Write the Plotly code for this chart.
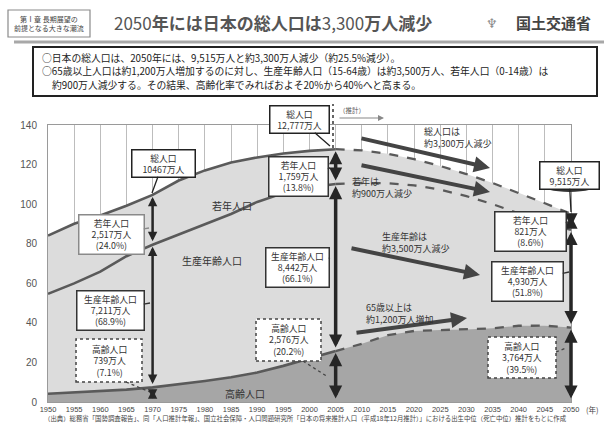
import plotly.graph_objects as go

# ---- data (unit: million persons) ----
years = [1950, 1955, 1960, 1965, 1970, 1975, 1980, 1985, 1990, 1995, 2000,
         2005, 2010, 2015, 2020, 2025, 2030, 2035, 2040, 2045, 2050]
total = [84.12, 90.08, 94.30, 99.21, 104.67, 111.94, 117.06, 121.05, 123.61, 125.57, 126.93,
         127.77, 127.18, 125.43, 122.74, 119.27, 115.22, 110.68, 105.70, 100.44, 95.15]
young = [29.43, 30.12, 28.43, 25.53, 25.17, 27.22, 27.51, 26.03, 22.49, 20.01, 18.47,
         17.59, 16.48, 14.84, 13.24, 11.96, 11.15, 10.68, 10.30, 9.74, 8.21]
elderly = [4.15, 4.75, 5.40, 6.24, 7.39, 8.87, 10.65, 12.47, 14.90, 18.26, 22.01,
           25.76, 29.41, 33.78, 35.90, 36.35, 36.67, 37.25, 38.53, 38.56, 37.64]
y_ticks = [0, 20, 40, 60, 80, 100, 120, 140]
x_ticks = years
base_year = 2005
marked_years = [1970, 2005, 2050]

# boundary between working-age band and young band
upper_mid = [t - y for t, y in zip(total, young)]
hist = [i for i, yr in enumerate(years) if yr <= base_year]
proj = [i for i, yr in enumerate(years) if yr >= base_year]

W, H = 604, 423
L, R, T, B = 48, 571, 125, 402
FONT = "Noto Sans CJK JP"
TXT = "#333333"
LINE = "#5a5a5a"


def PX(px):
    return (px - L) / (R - L)


def PY(py):
    return (B - py) / (B - T)


def sub(arr, idx):
    return [arr[i] for i in idx]


fig = go.Figure()

# filled areas
fig.add_trace(go.Scatter(x=years, y=total, fill="tozeroy", mode="none",
                         fillcolor="#dcdcdc", hoverinfo="skip"))
fig.add_trace(go.Scatter(x=years, y=elderly, fill="tozeroy", mode="none",
                         fillcolor="#a6a6a6", hoverinfo="skip"))

# boundary lines: solid for actual, dashed for projection
for series in (total, upper_mid, elderly):
    fig.add_trace(go.Scatter(x=sub(years, hist), y=sub(series, hist), mode="lines",
                             line=dict(color=LINE, width=2.6), hoverinfo="skip"))
    fig.add_trace(go.Scatter(x=sub(years, proj), y=sub(series, proj), mode="lines",
                             line=dict(color=LINE, width=2.3, dash="dash"), hoverinfo="skip"))

ann = []
shapes = []


def text(px, py, s, size=9, color=TXT, align="center", xanchor="center", **kw):
    ann.append(dict(x=PX(px), y=PY(py), xref="paper", yref="paper", text=s,
                    showarrow=False, font=dict(family=FONT, size=size, color=color),
                    align=align, xanchor=xanchor, yanchor="middle", **kw))


def arrow_px(x0, y0, x1, y1, width=4, color="#444444", head=2, size=0.8, side="end"):
    ann.append(dict(x=PX(x1), y=PY(y1), xref="paper", yref="paper", text="",
                    showarrow=True, ax=x0 - x1, ay=y0 - y1, axref="pixel", ayref="pixel",
                    arrowhead=head, arrowsize=size, arrowwidth=width, arrowcolor=color,
                    arrowside=side))


def callout(cx, cy, tx, ty, s, w, border="#222222"):
    ann.append(dict(x=PX(tx), y=PY(ty), xref="paper", yref="paper", text=s,
                    showarrow=True, ax=cx - tx, ay=cy - ty, axref="pixel", ayref="pixel",
                    arrowhead=0, arrowwidth=1.3, arrowcolor=border,
                    bordercolor=border, borderwidth=1.5, bgcolor="white", borderpad=1,
                    width=w,
                    font=dict(family=FONT, size=8.8, color=TXT)))


def dotted_box(x0, y0, x1, y1, s, tail=None):
    shapes.append(dict(type="rect", xref="paper", yref="paper",
                       x0=PX(x0), x1=PX(x1), y0=PY(y1), y1=PY(y0),
                       line=dict(color="#444444", width=1.5, dash="dot"), fillcolor="white"))
    if tail:
        shapes.append(dict(type="line", xref="paper", yref="paper",
                           x0=PX(tail[0]), y0=PY(tail[1]), x1=PX(tail[2]), y1=PY(tail[3]),
                           line=dict(color="#444444", width=1.3, dash="dot")))
    text((x0 + x1) / 2, (y0 + y1) / 2, s, size=8.8)


def dbl_arrow(year, v_top, v_bot, width, color="#262626"):
    ann.append(dict(x=year, y=v_top, xref="x", yref="y", text="", showarrow=True,
                    ax=year, ay=v_bot, axref="x", ayref="y",
                    arrowhead=2, arrowsize=0.75, arrowwidth=width, arrowcolor=color,
                    arrowside="end+start", standoff=2, startstandoff=2))


# vertical double arrows at the three marked years
for yr in marked_years:
    i = years.index(yr)
    w = 2.5 if yr == 1970 else 3.5
    dbl_arrow(yr, total[i], upper_mid[i], w)
    dbl_arrow(yr, upper_mid[i], elderly[i], w)
    dbl_arrow(yr, elderly[i], 0, w)

# ---- header ----
shapes.append(dict(type="rect", xref="paper", yref="paper",
                   x0=PX(8), x1=PX(90), y0=PY(37), y1=PY(10),
                   line=dict(color="#8a8a8a", width=1.2), fillcolor="white"))
text(49, 23.5, "第Ⅰ章 長期展望の<br>前提となる大きな潮流", size=7, color="#444444")
text(112, 22, "2050<b>年には日本の総人口は</b>3,300<b>万人減少</b>", size=17,
     color="#555555", xanchor="left", align="left")
text(492, 22, "♆", size=13, color="#888888")
text(553, 22, "<b>国土交通省</b>", size=15, color="#444444")
shapes.append(dict(type="line", xref="paper", yref="paper",
                   x0=PX(14), x1=PX(604), y0=PY(42), y1=PY(42),
                   line=dict(color="#a8a8a8", width=3)))

# summary box
shapes.append(dict(type="rect", xref="paper", yref="paper",
                   x0=PX(33), x1=PX(597), y0=PY(96), y1=PY(47),
                   line=dict(color="#222222", width=2), fillcolor="white"))
text(40, 58, "○日本の総人口は、2050年には、9,515万人と約3,300万人減少（約25.5%減少）。",
     size=9.8, color="#222222", xanchor="left", align="left")
text(40, 71.5, "○65歳以上人口は約1,200万人増加するのに対し、生産年齢人口（15-64歳）は約3,500万人、若年人口（0-14歳）は",
     size=9.8, color="#222222", xanchor="left", align="left")
text(50, 85, "約900万人減少する。その結果、高齢化率でみればおよそ20%から40%へと高まる。",
     size=9.8, color="#222222", xanchor="left", align="left")

# ---- in-chart labels ----
text(232, 205, "若年人口", size=10)
text(212, 260, "生産年齢人口", size=10)
text(245, 393, "高齢人口", size=10)

# projection marker
shapes.append(dict(type="line", xref="paper", yref="paper",
                   x0=PX(333), x1=PX(333), y0=PY(148), y1=PY(104),
                   line=dict(color="#666666", width=2, dash="dot")))
text(352, 110, "（推計）", size=6.5, color="#555555")
arrow_px(338, 118, 384, 118, width=1.2, color="#888888", head=2, size=1)

# 1970
callout(163, 163, 152, 193, "総人口<br>10467万人", 60)
callout(111, 234, 149, 228, "若年人口<br>2,517万人<br>(24.0%)", 62, border="#8a8a8a")
callout(110, 310, 150, 303, "生産年齢人口<br>7,211万人<br>(68.9%)", 64, border="#333333")
dotted_box(76, 339, 142, 382, "高齢人口<br>739万人<br>(7.1%)", tail=(126, 382, 150, 392))

# 2005
callout(299, 119, 330, 146, "総人口<br>12,777万人", 56)
callout(298, 176, 330, 168, "若年人口<br>1,759万人<br>(13.8%)", 56, border="#333333")
callout(297, 267, 330, 258, "生産年齢人口<br>8,442万人<br>(66.1%)", 60, border="#333333")
dotted_box(256, 319, 321, 361, "高齢人口<br>2,576万人<br>(20.2%)", tail=(303, 361, 328, 377))

# 2050
callout(569, 175, 571, 212, "総人口<br>9,515万人", 56)
shapes.append(dict(type="circle", xref="paper", yref="paper",
                   x0=PX(541), x1=PX(598), y0=PY(191), y1=PY(177),
                   line=dict(color="#333333", width=1.8)))
callout(530, 231, 568, 222, "若年人口<br>821万人<br>(8.6%)", 68, border="#333333")
callout(527, 281, 569, 272, "生産年齢人口<br>4,930万人<br>(51.8%)", 68, border="#333333")
dotted_box(488, 337, 556, 378, "高齢人口<br>3,764万人<br>(39.5%)", tail=(556, 352, 566, 348))

# change arrows and texts
arrow_px(360, 138, 490, 168)
text(422, 137, "総人口は<br>約3,300万人減少", size=9, xanchor="left", align="left")
arrow_px(360, 165, 490, 192)
text(350, 187, "若年は<br>約900万人減少", size=9, xanchor="left", align="left")
arrow_px(350, 248, 480, 275)
text(380, 242, "生産年齢は<br>約3,500万人減少", size=9, xanchor="left", align="left")
arrow_px(355, 333, 467, 318)
text(364, 313, "65歳以上は<br>約1,200万人増加", size=9, xanchor="left", align="left")

# axis unit and source
text(592, 409, "(年)", size=7.5, color="#444444")
text(42, 418, "（出典）総務省「国勢調査報告」、同「人口推計年報」、国立社会保障・人口問題研究所「日本の将来推計人口（平成18年12月推計）」における出生中位（死亡中位）推計をもとに作成",
     size=6.4, color="#444444", xanchor="left", align="left")

fig.update_layout(
    width=W, height=H,
    margin=dict(l=L, r=W - R, t=T, b=H - B, autoexpand=False),
    paper_bgcolor="white", plot_bgcolor="white",
    showlegend=False,
    annotations=ann, shapes=shapes,
    xaxis=dict(range=[1950, 2050], tickvals=x_ticks, ticktext=[str(v) for v in x_ticks],
               showgrid=True, gridcolor="#bdbdbd", gridwidth=1, zeroline=False,
               showline=True, linecolor="#9a9a9a", linewidth=1, mirror=True,
               ticks="", tickangle=0,
               tickfont=dict(family="Liberation Sans", size=7.5, color="#444444")),
    yaxis=dict(range=[0, 140], tickvals=y_ticks, showgrid=False, zeroline=False,
               showline=True, linecolor="#9a9a9a", linewidth=1, mirror=True,
               ticks="", ticklabelstandoff=8,
               tickfont=dict(family="Liberation Sans", size=10, color="#555555")),
)

fig.write_html("out.html")
